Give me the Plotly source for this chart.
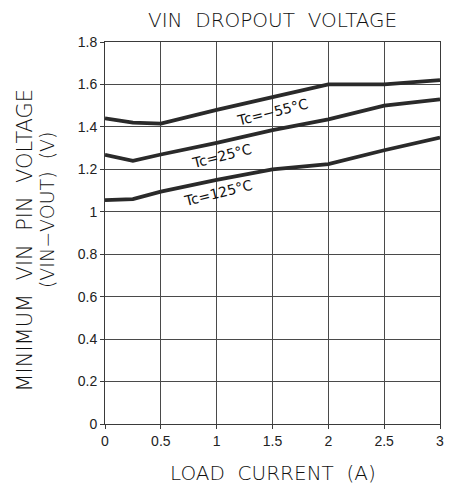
import plotly.graph_objects as go

current = [0, 0.25, 0.5, 1.0, 1.5, 2.0, 2.5, 3.0]
v_m55 = [1.44, 1.42, 1.415, 1.48, 1.54, 1.60, 1.60, 1.62]
v_25 = [1.268, 1.24, 1.27, 1.325, 1.385, 1.435, 1.50, 1.53]
v_125 = [1.055, 1.06, 1.095, 1.15, 1.20, 1.225, 1.29, 1.35]

labels = ["Tc=\u221255\u00b0C", "Tc=25\u00b0C", "Tc=125\u00b0C"]
label_x = [1.50, 1.04, 1.01]
label_y = [1.47, 1.265, 1.09]

x_ticks = [0, 0.5, 1, 1.5, 2, 2.5, 3]
x_ticktext = ["0", "0.5", "1", "1.5", "2", "2.5", "3"]
y_ticks = [0, 0.2, 0.4, 0.6, 0.8, 1.0, 1.2, 1.4, 1.6, 1.8]
y_ticktext = ["0", "0.2", "0.4", "0.6", "0.8", "1", "1.2", "1.4", "1.6", "1.8"]

fig = go.Figure()
for ys in (v_m55, v_25, v_125):
    fig.add_trace(go.Scatter(x=current, y=ys, mode="lines",
                             line=dict(color="#2a2a2a", width=3.8),
                             showlegend=False, hoverinfo="skip"))

for t, lx, ly in zip(labels, label_x, label_y):
    fig.add_annotation(x=lx, y=ly, text=t, showarrow=False, textangle=-14,
                       font=dict(family="DejaVu Sans", size=14, color="#111"))

title_font = dict(family="DejaVu Sans", size=20, color="#111", weight=300)
fig.add_annotation(xref="paper", yref="paper", x=0.5, y=1, yanchor="middle",
                   yshift=22, text="VIN  DROPOUT  VOLTAGE", showarrow=False,
                   font=title_font)
fig.add_annotation(xref="paper", yref="paper", x=0.5, y=0, yanchor="middle",
                   yshift=-49, text="LOAD  CURRENT  (A)", showarrow=False,
                   font=title_font)
fig.add_annotation(xref="paper", yref="paper", x=0, xanchor="center",
                   xshift=-80, y=0.48, text="MINIMUM  VIN  PIN  VOLTAGE",
                   textangle=-90, showarrow=False,
                   font=dict(family="DejaVu Sans", size=21, color="#111", weight=300))
fig.add_annotation(xref="paper", yref="paper", x=0, xanchor="center",
                   xshift=-58, y=0.56, text="(VIN\u2212VOUT)  (V)",
                   textangle=-90, showarrow=False,
                   font=dict(family="DejaVu Sans", size=19, color="#111", weight=300))

axis_common = dict(showgrid=True, gridcolor="#4a4a4a", gridwidth=1,
                   showline=True, linecolor="#3a3a3a", linewidth=1, mirror=True,
                   zeroline=False, ticks="outside", ticklen=4, tickcolor="#3a3a3a",
                   tickfont=dict(family="Liberation Sans", size=14, color="#222"))

fig.update_xaxes(range=[0, 3], tickvals=x_ticks, ticktext=x_ticktext, **axis_common)
fig.update_yaxes(range=[0, 1.8], tickvals=y_ticks, ticktext=y_ticktext, **axis_common)

# page body has an 8px default margin; compensate so the plot lands in place
fig.update_layout(width=445, height=481,
                  margin=dict(l=97, r=9, t=34, b=65),
                  paper_bgcolor="white", plot_bgcolor="white")

fig.write_html("out.html")
